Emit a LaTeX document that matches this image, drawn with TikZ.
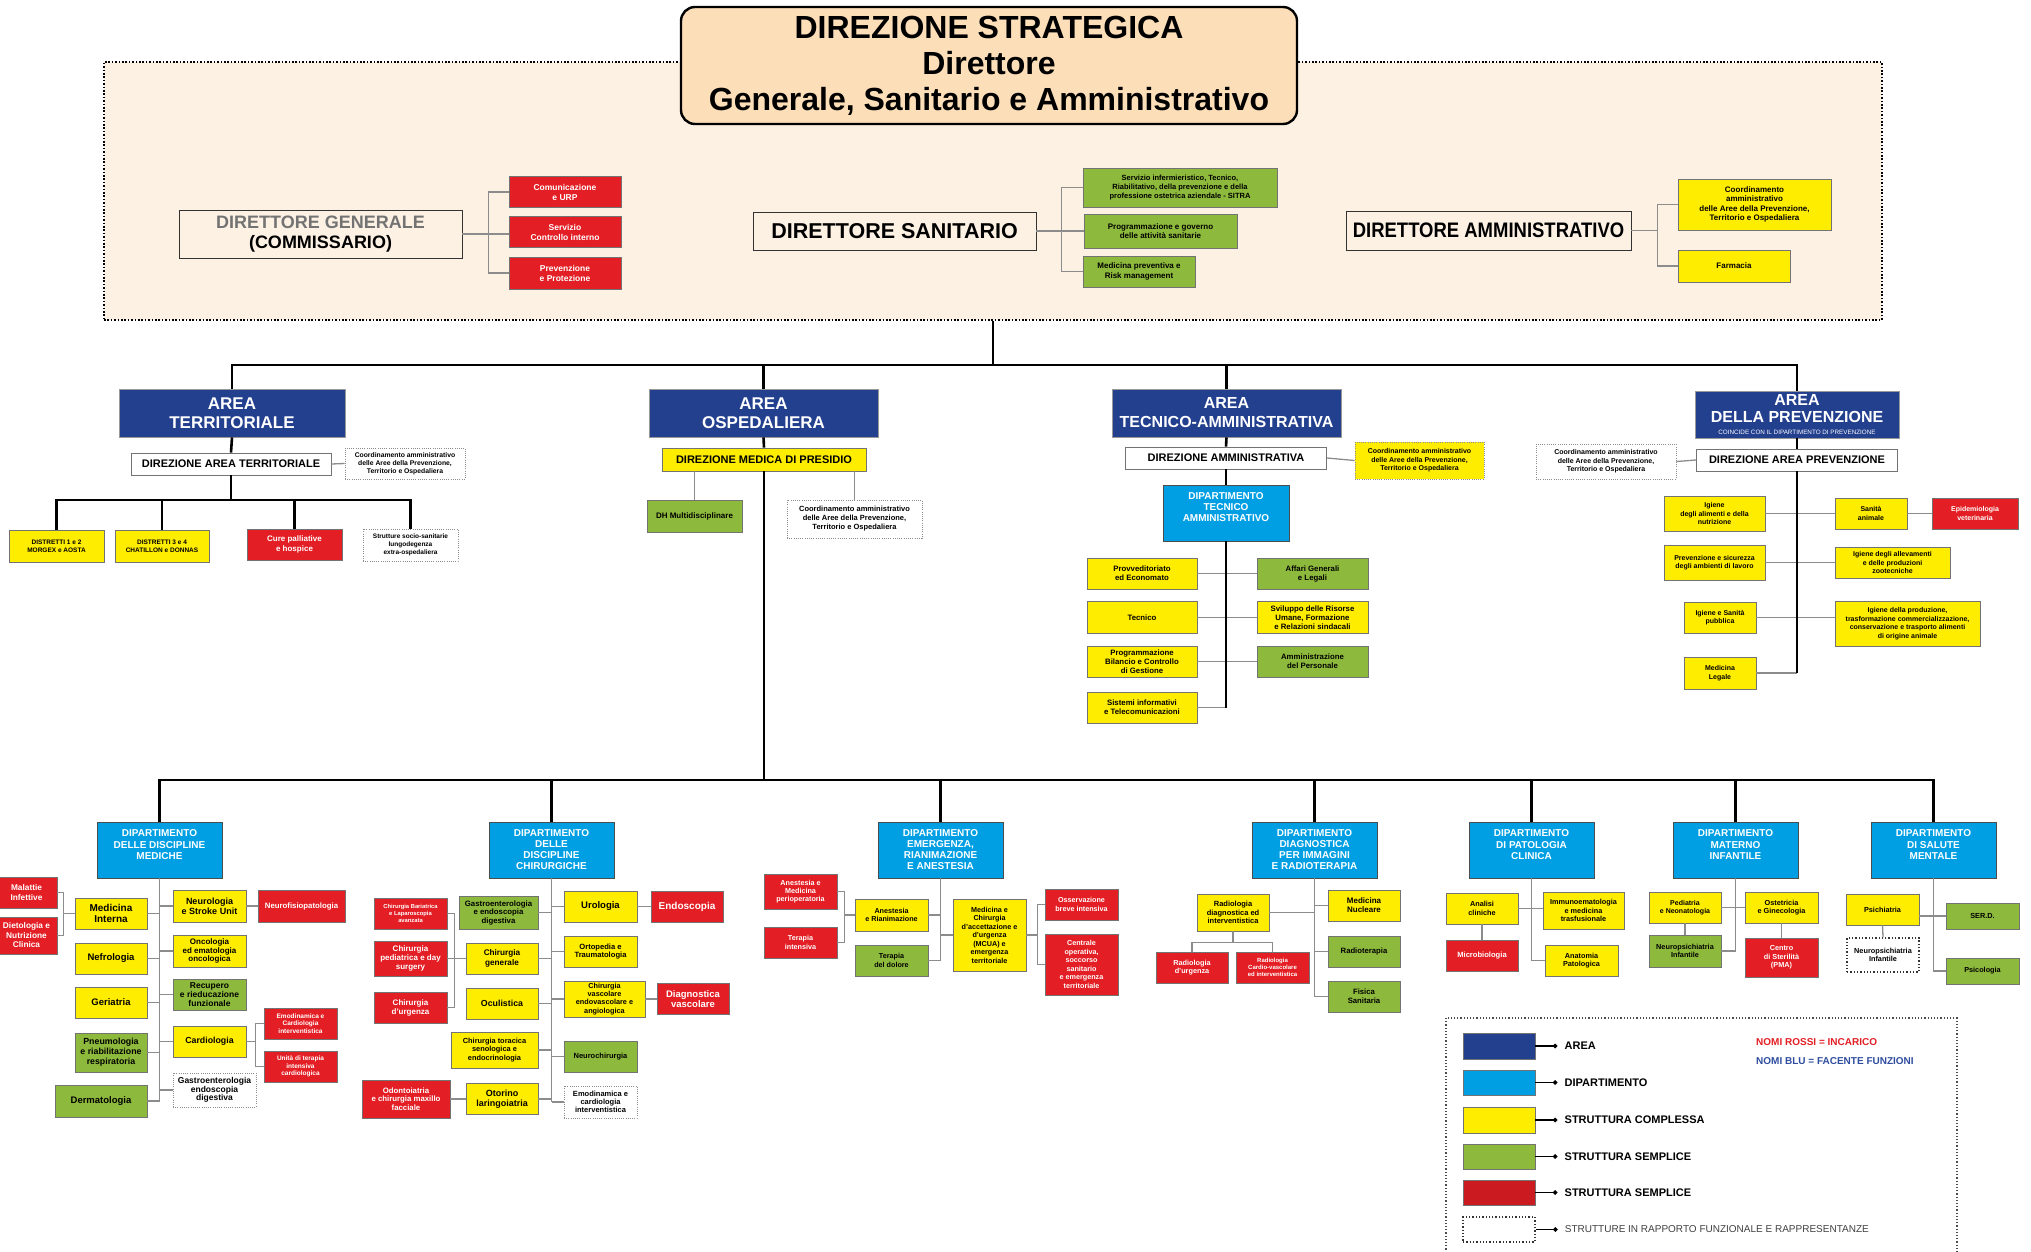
\documentclass[tikz,border=0pt]{standalone}
\usepackage{fontspec}
\setmainfont{Liberation Sans}
\newfontfamily\narrowsans[FakeStretch=0.88]{Liberation Sans}
\usepackage{tikz}
\usetikzlibrary{positioning,arrows.meta}
\definecolor{areablu}{RGB}{35,64,143}
\definecolor{dipblu}{RGB}{0,159,227}
\definecolor{giallo}{RGB}{255,237,0}
\definecolor{verde}{RGB}{141,185,60}
\definecolor{rosso}{RGB}{227,30,36}
\definecolor{pesca}{RGB}{252,222,184}
\definecolor{crema}{RGB}{253,241,228}
\definecolor{blunomi}{RGB}{46,77,158}

\begin{document}
\begin{tikzpicture}[x=1pt,y=-1pt]
 \tikzset{
  box/.style={draw=black!55, line width=0.9pt, align=center, inner sep=1pt, font=\bfseries\fontsize{7.5}{8.6}\selectfont},
  wh/.style 2 args={minimum width=#1, minimum height=#2},
  fs/.style 2 args={font=\bfseries\fontsize{#1}{#2}\selectfont},
  cplx/.style={box, fill=giallo},
  smpl/.style={box, fill=verde},
  incr/.style={box, fill=rosso, text=white},
  dept/.style={box, fill=dipblu, text=white, draw=black!70, fs={10}{11}},
  area/.style={box, fill=areablu, text=white, draw=black!40, fs={17}{19}},
  dire/.style={box, fill=white, fs={11}{13}},
  funz/.style={box, fill=white, draw=black!45, dash pattern=on 0.9pt off 1.3pt},
  ramo/.style={line width=2.6pt, black},
  filo/.style={line width=1.3pt, black!45},
  dotline/.style={line width=1.6pt, dash pattern=on 1.6pt off 1.8pt}
 }
 \useasboundingbox (0,0) rectangle (2031,1252);

 % direzione strategica
 \node[fill=crema, draw=black, dotline, wh={1778}{258}] (REG) at (993,191) {};
 \node[fill=pesca, draw=black, line width=2.4pt, rounded corners=14pt, wh={616}{117}, align=center, inner sep=2pt, fs={32}{36}] (TIT) at (989,65.5) {DIREZIONE STRATEGICA\\Direttore\\Generale, Sanitario e Amministrativo};

 \node[box, draw=black!80, wh={283}{48}, fs={18}{20}] (DG) at (320.5,234) {\textcolor{black!55}{DIRETTORE GENERALE}\\(COMMISSARIO)};
 \node[incr, wh={112}{31}, fs={8.5}{10}] (CU) at (565,192) {Comunicazione\\e URP};
 \node[incr, wh={112}{31}, fs={8.5}{10}] (SCI) at (565,232) {Servizio\\Controllo interno};
 \node[incr, wh={112}{32}, fs={8.5}{10}] (PP) at (565,273) {Prevenzione\\e Protezione};

 \node[box, draw=black!80, wh={283}{38}, fs={21.5}{24}] (DS) at (894.5,231) {DIRETTORE SANITARIO};
 \node[smpl, wh={194}{39}] (SITRA) at (1180,187.5) {Servizio infermieristico, Tecnico,\\Riabilitativo, della prevenzione e della\\professione ostetrica aziendale - SITRA};
 \node[smpl, wh={153}{34}, fs={8}{9.5}] (PGA) at (1160.5,231) {Programmazione e governo\\delle attività sanitarie};
 \node[smpl, wh={112}{31}, fs={8}{9.5}] (MPR) at (1139,271.5) {Medicina preventiva e\\Risk management};

 \node[box, draw=black!80, wh={285}{39}, font=\narrowsans\bfseries\fontsize{21}{24}\selectfont] (DA) at (1488.5,230.5) {DIRETTORE AMMINISTRATIVO};
 \node[cplx, wh={153}{51}, fs={8}{9.5}] (CAT) at (1754.5,204.5) {Coordinamento\\amministrativo\\delle Aree della Prevenzione,\\Territorio e Ospedaliera};
 \node[cplx, wh={112}{32}, fs={8}{9.5}] (FAR) at (1734,266) {Farmacia};

 % aree
 \node[area, wh={226}{48}] (AT) at (232,413) {AREA\\TERRITORIALE};
 \node[area, wh={229}{48}] (AO) at (763.5,413) {AREA\\OSPEDALIERA};
 \node[area, wh={229}{48}, fs={16}{19}] (ATA) at (1226.5,413) {AREA\\TECNICO-AMMINISTRATIVA};
 \node[area, wh={204}{47}, fs={16}{17}] (APV) at (1797,414.5) {AREA\\DELLA PREVENZIONE\\[-5pt]{\mdseries\fontsize{6.3}{7}\selectfont COINCIDE CON IL DIPARTIMENTO DI PREVENZIONE}};

 % area territoriale
 \node[dire, wh={200}{22}] (DAT) at (231,464) {DIREZIONE AREA TERRITORIALE};
 \node[funz, wh={120}{31}, fs={6.8}{8}] (CTE) at (405,463.5) {Coordinamento amministrativo\\delle Aree della Prevenzione,\\Territorio e Ospedaliera};
 \node[cplx, wh={95}{32}, fs={6.5}{8}] (D12) at (56.5,546) {DISTRETTI 1 e 2\\MORGEX e AOSTA};
 \node[cplx, wh={94}{32}, fs={6.5}{8}] (D34) at (162,546) {DISTRETTI 3 e 4\\CHATILLON e DONNAS};
 \node[incr, wh={95}{31}, fs={8}{10}] (CP) at (294.5,544.5) {Cure palliative\\e hospice};
 \node[funz, wh={95}{32}, fs={6.5}{7.8}] (SS) at (410.5,545) {Strutture socio-sanitarie\\lungodegenza\\extra-ospedaliera};

 % area ospedaliera
 \node[dire, fill=giallo, wh={204}{23}] (DMP) at (764,459.5) {DIREZIONE MEDICA DI PRESIDIO};
 \node[smpl, wh={95}{32}, fs={8}{9}] (DH) at (694.5,516) {DH Multidisciplinare};
 \node[funz, wh={135}{38}, fs={7.5}{9}] (COO) at (854.5,519) {Coordinamento amministrativo\\delle Aree della Prevenzione,\\Territorio e Ospedaliera};

 % area tecnico-amministrativa
 \node[dire, wh={201}{22}] (DAM) at (1226,458) {DIREZIONE AMMINISTRATIVA};
 \node[funz, fill=giallo, wh={129}{37}, fs={7}{8.5}] (CTA) at (1419.5,460.5) {Coordinamento amministrativo\\delle Aree della Prevenzione,\\Territorio e Ospedaliera};
 \node[dept, wh={126}{56}] (DTA) at (1226,513) {DIPARTIMENTO\\TECNICO\\AMMINISTRATIVO\\\mbox{}};
 \node[cplx, wh={110}{31}, fs={7.8}{9}] (PE) at (1142,573.5) {Provveditoriato\\ed Economato};
 \node[cplx, wh={110}{32}, fs={7.8}{9}] (TEC) at (1142,617.5) {Tecnico};
 \node[cplx, wh={110}{31}, fs={7.8}{9}] (PBC) at (1142,661.5) {Programmazione\\Bilancio e Controllo\\di Gestione};
 \node[cplx, wh={110}{31}, fs={7.8}{9}] (SIT) at (1142,707.5) {Sistemi informativi\\e Telecomunicazioni};
 \node[smpl, wh={111}{31}, fs={7.8}{9}] (AGL) at (1312.5,573.5) {Affari Generali\\e Legali};
 \node[cplx, wh={111}{32}, fs={7.8}{9}] (SRU) at (1312.5,617.5) {Sviluppo delle Risorse\\Umane, Formazione\\e Relazioni sindacali};
 \node[smpl, wh={111}{31}, fs={7.8}{9}] (APE) at (1312.5,661.5) {Amministrazione\\del Personale};

 % area della prevenzione
 \node[dire, wh={201}{22}] (DAP) at (1797,460) {DIREZIONE AREA PREVENZIONE};
 \node[funz, wh={140}{35}, fs={7}{8.5}] (CPV) at (1606,461.5) {Coordinamento amministrativo\\delle Aree della Prevenzione,\\Territorio e Ospedaliera};
 \node[cplx, wh={101}{35}, fs={7}{8.5}] (IA) at (1714.5,513.5) {Igiene\\degli alimenti e della\\nutrizione};
 \node[cplx, wh={72}{31}, fs={7}{8.5}] (SA) at (1871,513.5) {Sanità\\animale};
 \node[incr, wh={86}{31}, fs={7}{8.5}] (EV) at (1975,513.5) {Epidemiologia\\veterinaria};
 \node[cplx, wh={101}{35}, fs={7}{8.5}] (PS) at (1714.5,562.5) {Prevenzione e sicurezza\\degli ambienti di lavoro};
 \node[cplx, wh={115}{31}, fs={7}{8.5}] (IAZ) at (1892.5,562.5) {Igiene degli allevamenti\\e delle produzioni\\zootecniche};
 \node[cplx, wh={72}{31}, fs={7}{8.5}] (ISP) at (1720,617.5) {Igiene e Sanità\\pubblica};
 \node[cplx, wh={145}{45}, fs={7}{8.5}] (IP) at (1907.5,623.5) {Igiene della produzione,\\trasformazione commercializzazione,\\conservazione e trasporto alimenti\\di origine animale};
 \node[cplx, wh={72}{32}, fs={7}{8.5}] (ML) at (1720,673) {Medicina\\Legale};

 % dipartimento discipline mediche
 \node[dept, wh={125}{56}] (DMED) at (159.5,850) {DIPARTIMENTO\\DELLE DISCIPLINE\\MEDICHE\\\mbox{}};
 \node[incr, wh={61}{31}, fs={8.3}{9.5}] (MAL) at (26.5,892.5) {Malattie\\Infettive};
 \node[incr, wh={61}{37}, fs={8.3}{9.5}] (DIE) at (26.5,935.5) {Dietologia e\\Nutrizione\\Clinica};
 \node[cplx, wh={72}{31}, fs={10}{11}] (MI) at (111,913.5) {Medicina\\Interna};
 \node[cplx, wh={72}{31}, fs={9.5}{11}] (NEF) at (111,958.5) {Nefrologia};
 \node[cplx, wh={72}{31}, fs={9.5}{11}] (GER) at (111,1002.5) {Geriatria};
 \node[smpl, wh={72}{39}, fs={8.8}{10}] (PNE) at (111,1052.5) {Pneumologia\\e riabilitazione\\respiratoria};
 \node[smpl, wh={92}{32}, fs={9.5}{11}] (DER) at (101,1101) {Dermatologia};
 \node[cplx, wh={73}{32}, fs={9}{10}] (NEU) at (209.5,906) {Neurologia\\e Stroke Unit};
 \node[cplx, wh={73}{32}, fs={8}{8.5}] (ONC) at (209.5,951) {Oncologia\\ed ematologia\\oncologica};
 \node[smpl, wh={73}{31}, fs={8.5}{9}] (REC) at (209.5,994.5) {Recupero\\e rieducazione\\funzionale};
 \node[cplx, wh={73}{31}, fs={8.8}{10}] (CAR) at (209.5,1041.5) {Cardiologia};
 \node[funz, wh={83}{34}, fs={8.5}{8.5}] (GAS) at (214.5,1090) {Gastroenterologia\\endoscopia\\digestiva};
 \node[incr, wh={87}{32}, fs={7.8}{9}] (NFP) at (301.5,906) {Neurofisiopatologia};
 \node[incr, wh={73}{31}, fs={6.5}{7.5}] (EMO) at (300.5,1023.5) {Emodinamica e\\Cardiologia\\interventistica};
 \node[incr, wh={73}{31}, fs={6.5}{7.5}] (UTI) at (300.5,1066.5) {Unità di terapia\\intensiva\\cardiologica};

 % dipartimento discipline chirurgiche
 \node[dept, wh={125}{56}] (DCH) at (551.5,850) {DIPARTIMENTO\\DELLE\\DISCIPLINE\\CHIRURGICHE};
 \node[incr, wh={73}{31}, fs={5.8}{6.8}] (BARI) at (410.5,913.5) {Chirurgia Bariatrica\\e Laparoscopia\\avanzata};
 \node[incr, wh={73}{35}, fs={8}{9}] (CPED) at (410.5,958.5) {Chirurgia\\pediatrica e day\\surgery};
 \node[incr, wh={73}{31}, fs={8}{9}] (CURG) at (410.5,1007.5) {Chirurgia\\d'urgenza};
 \node[incr, wh={88}{38}, fs={7.8}{8.8}] (ODO) at (406,1099) {Odontoiatria\\e chirurgia maxillo\\facciale};
 \node[smpl, wh={79}{33}, fs={7.8}{8.5}] (GEN) at (498.5,912.5) {Gastroenterologia\\e endoscopia\\digestiva};
 \node[cplx, wh={72}{31}, fs={8.2}{9.5}] (CGE) at (502,958.5) {Chirurgia\\generale};
 \node[cplx, wh={72}{31}, fs={8.8}{10}] (OCU) at (502,1003.5) {Oculistica};
 \node[cplx, wh={87}{36}, fs={7.4}{8.5}] (TOR) at (494.5,1050) {Chirurgia toracica\\senologica e\\endocrinologia};
 \node[cplx, wh={72}{31}, fs={9}{9.5}] (OTO) at (502,1099) {Otorino\\laringoiatria};
 \node[cplx, wh={73}{31}, fs={9.5}{11}] (URO) at (600.5,906.5) {Urologia};
 \node[cplx, wh={73}{31}, fs={7.6}{8.5}] (ORT) at (600.5,951.5) {Ortopedia e\\Traumatologia};
 \node[cplx, wh={81}{36}, fs={7.3}{8.2}] (CVA) at (604.5,999) {Chirurgia\\vascolare\\endovascolare e\\angiologica};
 \node[smpl, wh={73}{31}, fs={7.5}{9}] (NCH) at (600.5,1056.5) {Neurochirurgia};
 \node[funz, wh={73}{32}, fs={7.5}{8}] (EMD) at (600.5,1102) {Emodinamica e\\cardiologia\\interventistica};
 \node[incr, wh={72}{31}, fs={10}{11}] (END) at (687,906.5) {Endoscopia};
 \node[incr, wh={72}{31}, fs={9.5}{10.5}] (DVA) at (693,999) {Diagnostica\\vascolare};

 % dipartimento emergenza
 \node[dept, wh={125}{56}] (DEM) at (940.5,850) {DIPARTIMENTO\\EMERGENZA,\\RIANIMAZIONE\\E ANESTESIA};
 \node[incr, wh={73}{35}, fs={7.2}{8.3}] (AMP) at (800.5,891.5) {Anestesia e\\Medicina\\perioperatoria};
 \node[incr, wh={73}{31}, fs={7.2}{8.3}] (TIN) at (800.5,942.5) {Terapia\\intensiva};
 \node[cplx, wh={73}{32}, fs={7.2}{8.3}] (ARI) at (891.5,915) {Anestesia\\e Rianimazione};
 \node[smpl, wh={73}{31}, fs={7.2}{8.3}] (TDO) at (891.5,960.5) {Terapia\\del dolore};
 \node[cplx, wh={73}{72}, fs={7.2}{8.5}] (MCU) at (989.5,935) {Medicina e\\Chirurgia\\d'accettazione e\\d'urgenza\\(MCUA) e\\emergenza\\territoriale};
 \node[incr, wh={73}{31}, fs={7.2}{8.3}] (OBI) at (1081.5,904.5) {Osservazione\\breve intensiva};
 \node[incr, wh={73}{61}, fs={7.2}{8.5}] (COP) at (1081.5,964.5) {Centrale\\operativa,\\soccorso\\sanitario\\e emergenza\\territoriale};

 % dipartimento diagnostica
 \node[dept, wh={125}{56}] (DDI) at (1314.5,850) {DIPARTIMENTO\\DIAGNOSTICA\\PER IMMAGINI\\E RADIOTERAPIA};
 \node[cplx, wh={72}{37}, fs={7.5}{8.5}] (RAD) at (1233,912.5) {Radiologia\\diagnostica ed\\interventistica};
 \node[incr, wh={72}{31}, fs={7.3}{8.5}] (RUR) at (1192,967.5) {Radiologia\\d'urgenza};
 \node[incr, wh={73}{31}, fs={6}{7}] (RCV) at (1272.5,967.5) {Radiologia\\Cardio-vascolare\\ed interventistica};
 \node[cplx, wh={72}{31}, fs={8}{9}] (MNU) at (1364,905.5) {Medicina\\Nucleare};
 \node[smpl, wh={72}{31}, fs={7.7}{9}] (RTP) at (1364,951.5) {Radioterapia};
 \node[smpl, wh={72}{31}, fs={7.7}{9}] (FSA) at (1364,996.5) {Fisica\\Sanitaria};

 % dipartimento patologia clinica
 \node[dept, wh={125}{56}] (DPC) at (1531.5,850) {DIPARTIMENTO\\DI PATOLOGIA\\CLINICA\\\mbox{}};
 \node[cplx, wh={72}{31}, fs={7.3}{8.5}] (ACL) at (1482,908.5) {Analisi\\cliniche};
 \node[incr, wh={72}{31}, fs={7.6}{8.5}] (MIC) at (1482,955.5) {Microbiologia};
 \node[cplx, wh={81}{37}, fs={7.3}{8.5}] (IMM) at (1583.5,910.5) {Immunoematologia\\e medicina\\trasfusionale};
 \node[cplx, wh={73}{31}, fs={7.3}{8.5}] (APA) at (1581.5,960.5) {Anatomia\\Patologica};

 % dipartimento materno infantile
 \node[dept, wh={125}{56}] (DMI) at (1735.5,850) {DIPARTIMENTO\\MATERNO\\INFANTILE\\\mbox{}};
 \node[cplx, wh={72}{31}, fs={7}{8.5}] (PED) at (1685,907.5) {Pediatria\\e Neonatologia};
 \node[cplx, wh={73}{31}, fs={7.3}{8.5}] (OST) at (1781.5,907.5) {Ostetricia\\e Ginecologia};
 \node[smpl, wh={72}{32}, fs={7.3}{8.5}] (NPS) at (1685,951) {Neuropsichiatria\\Infantile};
 \node[incr, wh={73}{39}, fs={7.3}{8.5}] (PMA) at (1781.5,957.5) {Centro\\di Sterilità\\(PMA)};

 % dipartimento salute mentale
 \node[dept, wh={125}{56}] (DSM) at (1933.5,850) {DIPARTIMENTO\\DI SALUTE\\MENTALE\\\mbox{}};
 \node[cplx, wh={73}{31}, fs={7.3}{8.5}] (PSI) at (1882.5,909.5) {Psichiatria};
 \node[smpl, wh={73}{26}, fs={7.3}{8.5}] (SERD) at (1982.5,916) {SER.D.};
 \node[smpl, wh={73}{26}, fs={7.3}{8.5}] (PSC) at (1982.5,971) {Psicologia};
 \node[funz, draw=black!80, line width=1.3pt, dash pattern=on 1.3pt off 2pt, wh={72}{34}, fs={7.3}{8.5}] (NPF) at (1883,955) {Neuropsichiatria\\Infantile};

 % collegamenti grigi
 \draw[filo] (CU.west) -| ([xshift=-20pt]SCI.west) |- (PP.west);
 \draw[filo] (DG.east) -- (DG.east -| SCI.west);
 \draw[filo] (SITRA.west) -| ([xshift=-22pt]PGA.west) |- (MPR.west);
 \draw[filo] (DS.east) -- (PGA.west);
 \draw[filo] (CAT.west) -| ([xshift=26pt]DA.east) |- (FAR.west);
 \draw[filo] (DA.east) -- ++(26,0);

 \draw[filo] (DAT.east) -- (CTE.west);
 \draw[filo] (DMP.south -| DH.north) -- (DH.north);
 \draw[filo] (DMP.south -| COO.north) -- (COO.north);
 \draw[filo] (DAM.east) -- (CTA.west);
 \draw[filo] (PE.east) -- (AGL.west);
 \draw[filo] (TEC.east) -- (SRU.west);
 \draw[filo] (PBC.east) -- (APE.west);
 \draw[filo] (SIT.east) -- (SIT.east -| DTA.south);
 \draw[filo] (CPV.east) -- (DAP.west);
 \draw[filo] (IA.east) -- (SA.west);
 \draw[filo] (SA.east) -- (EV.west);
 \draw[filo] (PS.east) -- (IAZ.west);
 \draw[filo] (ISP.east) -- (ISP.east -| IP.west);
 \draw[filo] (ML.east) -- (ML.east -| DAP.south);

 \draw[filo] (DMED.south) -- (DMED.south |- DER.east);
 \foreach \nd in {MI,NEF,GER,PNE,DER} \draw[filo] (\nd.east) -- (\nd.east -| DMED.south);
 \foreach \nd in {NEU,ONC,REC,CAR,GAS} \draw[filo] (\nd.west) -- (\nd.west -| DMED.south);
 \draw[filo] (MAL.east) -| ([xshift=-11pt]MI.west) |- (DIE.east);
 \draw[filo] (MI.west) -- ++(-11,0);
 \draw[filo] (NEU.east) -- (NFP.west);
 \draw[filo] (EMO.west) -| ([xshift=9pt]CAR.east) |- (UTI.west);
 \draw[filo] (CAR.east) -- ++(9,0);

 \draw[filo] (DCH.south) -- (DCH.south |- EMD.west);
 \foreach \nd in {GEN,CGE,OCU,TOR,OTO} \draw[filo] (\nd.east) -- (\nd.east -| DCH.south);
 \foreach \nd in {URO,ORT,CVA,NCH,EMD} \draw[filo] (\nd.west) -- (\nd.west -| DCH.south);
 \draw[filo] (URO.east) -- (END.west);
 \draw[filo] (CVA.east) -- (DVA.west);
 \draw[filo] (ODO.east) -- (OTO.west);
 \draw[filo] (CPED.east) -- (CGE.west);
 \draw[filo] (BARI.east) -| ([xshift=-11pt]CGE.west) |- (CURG.east);

 \draw[filo] (DEM.south) -- (DEM.south |- TDO.east);
 \foreach \nd in {ARI,TDO} \draw[filo] (\nd.east) -- (\nd.east -| DEM.south);
 \draw[filo] (MCU.west) -- (MCU.west -| DEM.south);
 \draw[filo] (AMP.east) -| ([xshift=-10pt]ARI.west) |- (TIN.east);
 \draw[filo] (ARI.west) -- ++(-10,0);
 \draw[filo] (OBI.west) -| ([xshift=11pt]MCU.east) |- (COP.west);
 \draw[filo] (MCU.east) -- ++(11,0);

 \draw[filo] (DDI.south) -- (DDI.south |- FSA.west);
 \foreach \nd in {MNU,RTP,FSA} \draw[filo] (\nd.west) -- (\nd.west -| DDI.south);
 \draw[filo] (RAD.east) -- (RAD.east -| DDI.south);
 \draw[filo] (RAD.south) -- ++(0,11) -| (RUR.north);
 \draw[filo] (RAD.south) -- ++(0,11) -| (RCV.north);

 \draw[filo] (DPC.south) -- (DPC.south |- APA.west);
 \draw[filo] (ACL.east) -- (ACL.east -| IMM.west);
 \draw[filo] (APA.west) -- (APA.west -| DPC.south);
 \draw[filo] (ACL.south) -- (MIC.north);

 \draw[filo] (DMI.south) -- (DMI.south |- NPS.east);
 \draw[filo] (PED.east) -- (OST.west);
 \draw[filo] (NPS.east) -- (NPS.east -| DMI.south);
 \draw[filo] (PED.south) -- (NPS.north);
 \draw[filo] (OST.south) -- (PMA.north);

 \draw[filo] (DSM.south) |- (PSC.west);
 \draw[filo] (SERD.west) -- (SERD.west -| PSI.east);
 \draw[filo] (PSI.south) -- (NPF.north);

 % albero principale
 \coordinate (BAR) at (993,365);
 \coordinate (TB) at (231,500);
 \coordinate (HB) at (764,780);
 \draw[ramo] (REG.south) -- (BAR);
 \draw[ramo] (AT.north) |- (BAR) -| (APV.north);
 \draw[ramo] (AO.north) |- (BAR);
 \draw[ramo] (ATA.north) |- (BAR);

 \draw[ramo] (AT.south) -- (DAT.north);
 \draw[ramo] (DAT.south) -- (TB);
 \draw[ramo] (D12.north) |- (TB) -| (SS.north);
 \draw[ramo] (D34.north) |- (TB);
 \draw[ramo] (CP.north) |- (TB);

 \draw[ramo] (AO.south) -- (DMP.north);
 \draw[ramo] (DMP.south) -- (HB);
 \draw[ramo] (ATA.south) -- (DAM.north);
 \draw[ramo] (DAM.south) -- (DTA.north);
 \draw[ramo] (DTA.south) -- (DTA.south |- SIT.east);
 \draw[ramo] (APV.south) -- (DAP.north);
 \draw[ramo] (DAP.south) -- (DAP.south |- ML.east);

 \draw[ramo] (DMED.north) |- (HB) -| (DSM.north);
 \foreach \nd in {DCH,DEM,DDI,DPC,DMI} \draw[ramo] (\nd.north) |- (HB);

 % legenda
 \draw[black!70, line width=1.2pt, dash pattern=on 1.2pt off 2pt] (1446,1018) rectangle (1957,1262);
 \node[box, fill=areablu, wh={72}{26}] (L1) at (1499,1046) {};
 \node[box, fill=dipblu, wh={72}{25}] (L2) at (1499,1082.5) {};
 \node[box, fill=giallo, wh={72}{26}] (L3) at (1499,1120) {};
 \node[box, fill=verde, wh={72}{25}] (L4) at (1499,1156.5) {};
 \node[box, fill=rosso!90!black, wh={72}{25}] (L5) at (1499,1192.5) {};
 \node[box, fill=white, draw=black!80, line width=1.3pt, dash pattern=on 1.3pt off 2pt, wh={72}{25}] (L6) at (1499,1229.5) {};
 \node[fs={11}{13}, inner sep=0pt, inner xsep=7pt, right=22pt of L1] (T1) {AREA};
 \node[fs={11}{13}, inner sep=0pt, inner xsep=7pt, right=22pt of L2] (T2) {DIPARTIMENTO};
 \node[fs={11}{13}, inner sep=0pt, inner xsep=7pt, right=22pt of L3] (T3) {STRUTTURA COMPLESSA};
 \node[fs={11}{13}, inner sep=0pt, inner xsep=7pt, right=22pt of L4] (T4) {STRUTTURA SEMPLICE};
 \node[fs={11}{13}, inner sep=0pt, inner xsep=7pt, right=22pt of L5] (T5) {STRUTTURA SEMPLICE};
 \node[font=\fontsize{10}{12}\selectfont, text=black!75, inner sep=0pt, inner xsep=7pt, right=22pt of L6] (T6) {STRUTTURE IN RAPPORTO FUNZIONALE E RAPPRESENTANZE};
 \foreach \i in {1,...,6} \draw[line width=1.2pt, -{Circle[length=4.5pt]}] (L\i.east) -- (T\i.west);
 \node[fs={10}{12}, text=rosso, inner sep=0pt, anchor=west] (NR) at (1756,1042) {NOMI ROSSI = INCARICO};
 \node[fs={10}{12}, text=blunomi, inner sep=0pt, anchor=west] (NB) at (1756,1061) {NOMI BLU = FACENTE FUNZIONI};
\end{tikzpicture}
\end{document}
